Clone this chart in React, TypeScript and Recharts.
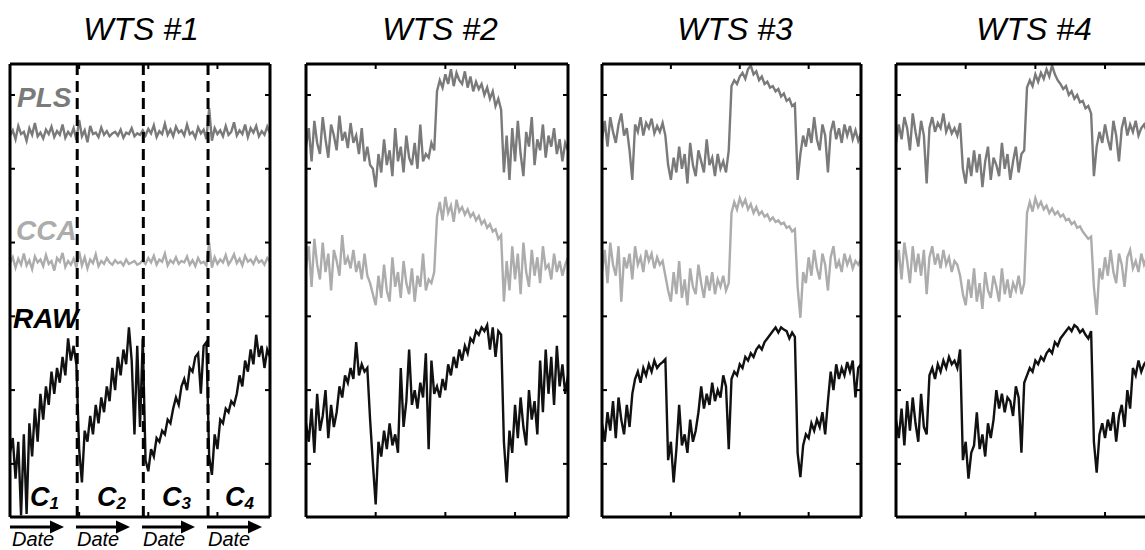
import React from 'react';
import { LineChart, Line, XAxis, YAxis, ReferenceLine } from 'recharts';

const panelTitles = ['WTS #1', 'WTS #2', 'WTS #3', 'WTS #4'];
const seriesLabels = ['PLS', 'CCA', 'RAW'];
const cycleNames = ['1', '2', '3', '4'];
const xTicks = [25, 50, 75];
const yTicks = [0, 1, 2, 3, 4, 5];
const cycleBoundaries = [24.3, 48.2, 71.6];

// WTS #1
const wts1Pls = [4.45,4.52,4.40,4.58,4.47,4.50,4.38,4.55,4.46,4.62,4.44,4.49,4.41,4.53,4.47,4.57,4.43,4.51,4.46,4.60,4.42,4.50,4.45,4.55,4.39,
  4.66,4.44,4.52,4.36,4.58,4.47,4.49,4.43,4.56,4.46,4.51,4.44,4.48,4.50,4.45,4.53,4.42,4.49,4.47,4.55,4.44,4.48,4.46,
  4.52,4.45,4.54,4.48,4.59,4.43,4.51,4.47,4.61,4.46,4.53,4.44,4.57,4.49,4.52,4.45,4.60,4.47,4.50,4.42,4.56,4.48,4.53,4.40,
  4.82,4.38,4.55,4.47,4.52,4.44,4.58,4.46,4.50,4.63,4.45,4.52,4.47,4.60,4.43,4.55,4.49,4.58,4.44,4.51,4.46,4.57,4.48];
const wts1Cca = [2.72,2.80,2.66,2.78,2.70,2.85,2.69,2.76,2.64,2.81,2.73,2.77,2.68,2.83,2.71,2.75,2.62,2.79,2.74,2.86,2.67,2.75,2.70,2.78,2.66,
  2.88,2.69,2.80,2.65,2.77,2.72,2.84,2.68,2.75,2.71,2.79,2.73,2.70,2.76,2.72,2.74,2.69,2.77,2.71,2.73,2.75,2.70,2.72,
  2.76,2.71,2.79,2.73,2.82,2.70,2.77,2.74,2.85,2.69,2.76,2.72,2.80,2.71,2.75,2.73,2.81,2.70,2.76,2.68,2.79,2.72,2.74,2.69,
  3.00,2.66,2.80,2.71,2.77,2.73,2.83,2.70,2.76,2.84,2.72,2.78,2.69,2.82,2.74,2.77,2.71,2.80,2.73,2.76,2.70,2.79,2.74];
const wts1Raw = [0.15,0.35,-0.20,0.30,-0.70,0.40,-0.68,0.55,0.10,0.75,0.30,0.95,0.60,1.05,0.80,1.25,0.95,1.30,1.10,1.45,1.20,1.70,1.40,1.60,1.35,
  0.20,-0.25,0.45,0.30,0.65,0.40,0.80,0.55,0.90,0.70,1.05,0.85,1.30,1.00,1.45,1.20,1.55,1.35,1.85,1.40,0.40,1.60,0.50,1.70,
  0.05,-0.10,0.20,0.10,0.35,0.30,0.45,0.40,0.60,0.55,0.75,0.90,0.80,1.05,1.15,1.00,1.30,1.25,1.45,1.50,0.95,1.60,1.65,
  0.10,-0.15,0.40,0.20,0.60,0.55,0.75,0.70,0.85,0.80,0.95,1.20,1.05,1.40,1.25,1.55,1.35,1.75,1.45,1.60,1.30,1.55,1.45];

// WTS #2
const wts2Pls = [4.30,4.55,4.10,4.65,4.35,4.20,4.70,4.40,4.15,4.60,4.45,4.25,4.72,4.38,4.50,4.28,4.62,4.35,4.45,4.20,4.55,4.10,4.30,4.05,
  4.00,3.75,4.20,3.95,4.40,4.05,4.25,3.90,4.55,4.10,4.30,3.95,4.45,4.15,4.05,4.35,4.00,4.60,4.10,4.20,4.15,4.35,4.25,
  5.05,5.20,5.10,5.28,5.15,5.35,5.12,5.30,5.20,5.15,5.32,5.10,5.25,5.05,5.18,5.08,5.15,5.00,5.10,4.95,5.05,4.85,4.95,4.80,
  3.95,4.45,3.85,4.55,4.10,4.65,4.20,3.90,4.50,4.30,4.70,4.05,4.40,4.25,4.60,4.15,4.45,4.30,4.55,4.20,4.40,4.10,4.35,4.25];
const wts2Cca = [2.65,2.95,2.40,3.05,2.70,2.50,3.00,2.60,2.85,2.35,2.90,2.75,2.55,3.10,2.70,2.80,2.65,2.90,2.60,2.75,2.50,2.85,2.55,2.45,
  2.30,2.15,2.55,2.25,2.70,2.35,2.20,2.80,2.40,2.60,2.25,2.75,2.45,2.30,2.65,2.20,2.55,2.40,2.85,2.35,2.50,2.45,2.60,
  3.35,3.55,3.30,3.62,3.40,3.50,3.28,3.58,3.42,3.48,3.38,3.45,3.35,3.40,3.30,3.36,3.25,3.30,3.20,3.25,3.15,3.18,3.05,3.10,
  2.20,2.75,2.35,2.95,2.50,2.85,2.30,3.00,2.60,2.40,2.90,2.55,2.80,2.45,2.95,2.65,2.70,2.50,2.85,2.60,2.75,2.55,2.70,2.80];
const wts2Raw = [0.55,0.30,0.75,0.15,0.95,0.45,0.65,1.00,0.35,0.80,0.50,0.70,1.05,0.90,1.20,1.10,1.30,1.15,1.65,1.20,1.35,1.25,1.30,0.60,
  0.00,-0.55,0.30,0.10,0.45,0.20,0.55,0.25,0.40,0.15,1.30,0.50,0.85,1.55,0.80,1.00,0.75,1.10,0.90,1.50,0.20,1.40,0.95,
  1.05,0.90,1.15,1.00,1.35,1.20,1.45,1.30,1.55,1.40,1.60,1.50,1.70,1.65,1.80,1.75,1.85,1.80,1.88,1.55,1.85,1.45,1.80,1.75,
  0.30,-0.25,0.45,0.15,0.80,0.35,0.90,0.50,0.25,1.00,0.60,0.85,0.40,1.40,0.70,1.55,0.95,1.45,0.80,1.60,1.05,1.35,0.95,1.20];

// WTS #3
const wts3Pls = [4.40,4.65,4.30,4.70,4.50,4.35,4.60,4.75,4.45,4.55,4.25,3.85,4.60,4.50,4.70,4.45,4.62,4.55,4.68,4.48,4.58,4.50,4.62,4.45,
  4.05,3.85,4.15,3.95,4.30,4.00,4.20,3.80,4.35,4.05,3.90,4.25,4.10,3.95,4.40,4.05,4.15,3.90,4.20,4.00,4.10,3.95,4.25,
  5.12,5.20,5.15,5.25,5.30,5.22,5.35,5.40,5.28,5.32,5.20,5.25,5.15,5.18,5.10,5.12,5.05,5.08,4.98,5.02,4.92,4.95,4.85,4.88,
  3.85,4.20,4.45,4.30,4.55,4.35,4.70,4.40,4.25,4.60,4.45,3.95,4.50,4.65,4.40,4.55,4.35,4.60,4.45,4.58,4.40,4.52,4.38,4.48];
const wts3Cca = [2.60,2.90,2.45,3.00,2.70,2.55,2.95,2.20,2.80,2.65,2.85,2.50,2.95,2.70,2.80,2.60,2.90,2.75,2.85,2.65,2.80,2.70,2.75,2.55,
  2.35,2.20,2.60,2.30,2.75,2.25,2.50,2.15,2.65,2.40,2.30,2.70,2.45,2.25,2.55,2.35,2.60,2.30,2.50,2.40,2.55,2.35,2.45,
  3.40,3.55,3.45,3.60,3.50,3.58,3.45,3.52,3.40,3.48,3.38,3.42,3.35,3.38,3.30,3.34,3.28,3.30,3.25,3.27,3.20,3.22,3.15,3.18,
  2.40,1.98,2.60,2.45,2.80,2.55,2.90,2.65,2.50,2.85,2.70,2.35,2.80,2.95,2.65,2.75,2.60,2.85,2.70,2.80,2.65,2.75,2.70,2.78];
const wts3Raw = [0.55,0.30,0.70,0.45,0.85,0.35,0.90,0.60,0.40,0.80,0.50,0.95,1.15,1.25,1.10,1.30,1.20,1.35,1.25,1.40,1.30,1.35,1.38,1.42,
  0.05,0.30,-0.25,0.20,0.80,0.25,0.40,0.15,0.60,0.30,0.45,0.70,1.05,0.75,0.95,0.80,1.10,0.85,1.00,0.90,1.20,1.05,0.20,
  1.15,1.25,1.20,1.35,1.30,1.45,1.40,1.50,1.45,1.55,1.60,1.55,1.65,1.70,1.75,1.80,1.85,1.78,1.85,1.82,1.80,1.70,1.78,1.72,
  0.15,-0.18,0.25,0.40,0.35,0.55,0.45,0.60,0.50,0.70,0.40,0.85,1.25,1.00,1.35,1.15,1.30,1.20,1.38,1.25,1.40,0.90,1.30,1.35];

// WTS #4
const wts4Pls = [4.35,4.60,4.40,4.70,4.55,4.25,4.75,4.50,4.30,4.65,4.45,3.80,4.55,4.70,4.50,4.62,4.55,4.75,4.50,4.60,4.48,4.55,4.45,4.62,
  4.00,3.80,4.15,3.90,4.25,3.95,4.20,3.75,4.10,4.30,3.85,4.15,4.05,3.90,4.35,4.00,4.20,3.85,4.10,4.30,3.95,4.20,4.25,
  5.10,5.20,5.12,5.28,5.18,5.30,5.22,5.35,5.25,5.40,5.28,5.20,5.15,5.08,5.12,5.00,5.05,4.95,5.00,4.90,4.92,4.82,4.85,4.75,
  3.90,4.30,4.50,4.35,4.60,4.40,4.25,4.65,4.45,4.10,4.55,4.70,4.45,4.60,4.50,4.65,4.45,4.55,4.60,4.50,4.58,4.45,4.55,4.50];
const wts4Cca = [2.65,2.90,2.50,3.00,2.75,2.45,2.95,2.60,2.85,2.55,2.90,2.30,2.80,2.95,2.70,2.85,2.65,2.90,2.70,2.80,2.60,2.75,2.70,2.55,
  2.30,2.15,2.50,2.25,2.65,2.20,2.45,2.10,2.60,2.35,2.25,2.55,2.40,2.20,2.65,2.30,2.50,2.25,2.45,2.35,2.55,2.30,2.45,
  3.40,3.55,3.42,3.60,3.48,3.55,3.45,3.50,3.40,3.46,3.38,3.42,3.35,3.38,3.30,3.32,3.25,3.28,3.20,3.22,3.15,3.10,3.05,3.08,
  2.40,2.02,2.65,2.50,2.80,2.55,2.90,2.60,2.45,2.85,2.70,2.40,2.80,2.90,2.65,2.75,2.60,2.85,2.70,2.80,2.65,2.75,2.70,2.78];
const wts4Raw = [0.60,0.35,0.75,0.25,0.85,0.45,0.90,0.55,0.30,0.95,0.50,0.40,1.20,1.30,1.15,1.35,1.25,1.40,1.30,1.45,1.35,1.40,1.30,1.55,
  0.05,0.30,-0.20,0.15,0.25,0.70,0.20,0.40,0.10,0.55,0.35,0.60,1.00,0.75,0.95,0.70,0.90,0.85,0.65,1.05,0.90,0.15,1.10,
  1.20,1.30,1.25,1.40,1.35,1.45,1.40,1.50,1.55,1.50,1.65,1.60,1.70,1.75,1.80,1.85,1.80,1.88,1.85,1.78,1.82,1.75,1.70,1.80,
  0.30,-0.12,0.40,0.55,0.35,0.60,0.45,0.70,0.30,0.65,0.80,0.50,1.00,0.75,1.30,1.20,1.40,1.25,1.35,1.40,1.30,1.45,1.35,1.40];

const build = (pls: number[], cca: number[], raw: number[]) =>
  pls.map((v, i) => ({ i, pls: v, cca: cca[i], raw: raw[i] }));

const panels = [
  { data: build(wts1Pls, wts1Cca, wts1Raw), boxLeft: 10, boxWidth: 260, titleX: 141, dividers: true },
  { data: build(wts2Pls, wts2Cca, wts2Raw), boxLeft: 306, boxWidth: 262, titleX: 440, dividers: false },
  { data: build(wts3Pls, wts3Cca, wts3Raw), boxLeft: 602, boxWidth: 259, titleX: 735, dividers: false },
  { data: build(wts4Pls, wts4Cca, wts4Raw), boxLeft: 896, boxWidth: 262, titleX: 1034, dividers: false },
];

const FONT = '"Liberation Sans", Arial, Helvetica, sans-serif';
const PAD = 5;
const BOX_TOP = 64;
const BOX_H = 453;
const COLORS = { pls: '#7a7a7a', cca: '#acacac', raw: '#111111' };

const axisLine = { stroke: '#000', strokeWidth: 3 };
const tickLine = { stroke: '#000', strokeWidth: 2 };
const EmptyTick = () => <g />;

function Panel({ p }: { p: (typeof panels)[number] }) {
  return (
    <div style={{ position: 'absolute', left: p.boxLeft - PAD, top: BOX_TOP - PAD }}>
      <LineChart
        width={p.boxWidth + 2 * PAD}
        height={BOX_H + 2 * PAD}
        data={p.data}
        margin={{ top: PAD, right: PAD, bottom: PAD, left: PAD }}
      >
        <XAxis dataKey="i" type="number" domain={[0, 94]} ticks={xTicks} allowDataOverflow
          mirror tick={EmptyTick} tickSize={5} axisLine={axisLine} tickLine={tickLine} />
        <XAxis xAxisId="top" orientation="top" dataKey="i" type="number" domain={[0, 94]} ticks={xTicks}
          allowDataOverflow mirror tick={EmptyTick} tickSize={5} axisLine={axisLine} tickLine={tickLine} />
        <YAxis type="number" domain={[-0.72, 5.42]} ticks={yTicks} allowDataOverflow
          mirror tick={EmptyTick} tickSize={5} axisLine={axisLine} tickLine={tickLine} />
        <YAxis yAxisId="right" orientation="right" type="number" domain={[-0.72, 5.42]} ticks={yTicks}
          allowDataOverflow mirror tick={EmptyTick} tickSize={5} axisLine={axisLine} tickLine={tickLine} />
        <Line type="linear" dataKey="pls" stroke={COLORS.pls} strokeWidth={2.4} dot={false} isAnimationActive={false} />
        <Line type="linear" dataKey="cca" stroke={COLORS.cca} strokeWidth={2.4} dot={false} isAnimationActive={false} />
        <Line type="linear" dataKey="raw" stroke={COLORS.raw} strokeWidth={2.4} dot={false} isAnimationActive={false} />
        {p.dividers && cycleBoundaries.map((b) => (
          <ReferenceLine key={b} x={b} stroke="#000" strokeWidth={3} strokeDasharray="11 6" />
        ))}
      </LineChart>
    </div>
  );
}

const labelYs = [107, 240, 328];
const labelXs = [17, 16, 13];
const labelColors = [COLORS.pls, COLORS.cca, '#000'];
const cycleLabelXs = [30, 97, 162, 225];
const arrowStarts = [10, 76, 142, 207];
const arrowEnds = [64, 130, 195, 262];
const dateXs = [12, 77, 143, 208];

export default function App() {
  return (
    <div style={{ position: 'absolute', left: 0, top: 0, width: 1145, height: 550, overflow: 'hidden', background: '#fff' }}>
      {panels.map((p, k) => <Panel key={k} p={p} />)}
      <svg width={1145} height={550} style={{ position: 'absolute', left: 0, top: 0, pointerEvents: 'none' }}>
        {panels.map((p, k) => (
          <text key={k} x={p.titleX} y={40} textAnchor="middle" fontFamily={FONT} fontStyle="italic" fontSize={32} fill="#000">
            {panelTitles[k]}
          </text>
        ))}
        {seriesLabels.map((s, k) => (
          <text key={s} x={labelXs[k]} y={labelYs[k]} fontFamily={FONT} fontStyle="italic" fontWeight="bold" fontSize={28} fill={labelColors[k]}>
            {s}
          </text>
        ))}
        {cycleNames.map((c, k) => (
          <text key={c} x={cycleLabelXs[k]} y={506} fontFamily={FONT} fontStyle="italic" fontWeight="bold" fontSize={27} fill="#000">
            <tspan>C</tspan>
            <tspan fontSize={17} dy={3}>{c}</tspan>
          </text>
        ))}
        {arrowStarts.map((s, k) => (
          <g key={k}>
            <line x1={s} y1={527} x2={arrowEnds[k] - 12} y2={527} stroke="#000" strokeWidth={3} />
            <polygon points={`${arrowEnds[k] - 14},520.5 ${arrowEnds[k]},527 ${arrowEnds[k] - 14},533.5`} fill="#000" />
          </g>
        ))}
        {dateXs.map((x, k) => (
          <text key={k} x={x} y={546} fontFamily={FONT} fontStyle="italic" fontSize={20} fill="#000">Date</text>
        ))}
      </svg>
    </div>
  );
}
